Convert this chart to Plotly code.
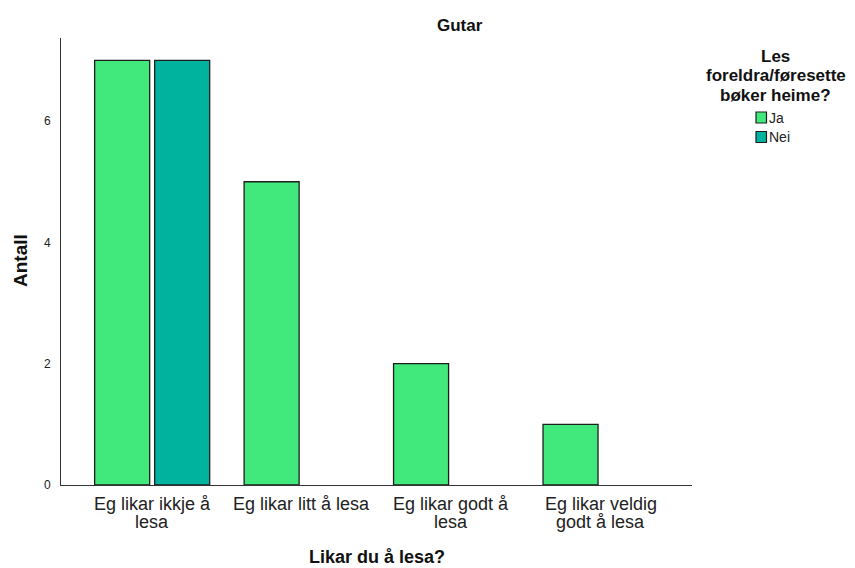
import plotly.graph_objects as go

categories = ["Eg likar ikkje å lesa", "Eg likar litt å lesa", "Eg likar godt å lesa", "Eg likar veldig godt å lesa"]
tick_labels = ["Eg likar ikkje å\nlesa", "Eg likar litt å lesa", "Eg likar godt å\nlesa", "Eg likar veldig\ngodt å lesa"]
series_names = ["Ja", "Nei"]
ja_values = [7, 5, 2, 1]
nei_values = [7, None, None, None]
y_ticks = [0, 2, 4, 6]
chart_title = "Gutar"
x_title = "Likar du å lesa?"
y_title = "Antall"
legend_title_lines = ["Les", "foreldra/føresette", "bøker heime?"]

FONT = "Arial, Liberation Sans, sans-serif"
COLORS = ["#41E87C", "#00B39E"]
OUTLINE = "#1e1e1e"

# page body has an 8px margin: figure is placed at (8, 8) in the window
OFF = 8
W, H = 855 - OFF, 568 - OFF
L, T = 61 - OFF, 38 - OFF
R = W - (692 - OFF)
B = H - (485 - OFF)
PW, PH = W - L - R, H - T - B


def px(x):
    return (x - OFF - L) / PW


def py(y):
    return (H - B - (y - OFF)) / PH


fig = go.Figure()
for name, vals, col in zip(series_names, [ja_values, nei_values], COLORS):
    fig.add_trace(go.Bar(name=name, x=categories, y=vals, showlegend=False,
                         marker=dict(color=col, line=dict(color=OUTLINE, width=1.3))))

annotations = []
annotations.append(dict(text=f"<b>{chart_title}</b>", x=px(459.5), y=py(25), xref="paper", yref="paper",
                        xanchor="center", yanchor="middle", showarrow=False,
                        font=dict(size=17, family=FONT, color="#111")))
for cat, lab in zip(categories, tick_labels):
    for i, line in enumerate(lab.split("\n")):
        annotations.append(dict(text=line, x=cat, y=0, xref="x", yref="paper",
                                xanchor="center", yanchor="middle", yshift=-19 - 17.5 * i,
                                showarrow=False, font=dict(size=18, family=FONT, color="#222")))
annotations.append(dict(text=f"<b>{x_title}</b>", x=px(377), y=py(557), xref="paper", yref="paper",
                        xanchor="center", yanchor="middle", showarrow=False,
                        font=dict(size=18, family=FONT, color="#111")))
annotations.append(dict(text=f"<b>{y_title}</b>", x=px(20), y=py(261), xref="paper", yref="paper",
                        xanchor="center", yanchor="middle", textangle=-90, showarrow=False,
                        font=dict(size=19, family=FONT, color="#111")))
for i, line in enumerate(legend_title_lines):
    annotations.append(dict(text=f"<b>{line}</b>", x=px(775.5), y=py(57 + 19 * i), xref="paper", yref="paper",
                            xanchor="center", yanchor="middle", showarrow=False,
                            font=dict(size=17, family=FONT, color="#111")))
shapes = []
for i, (name, col) in enumerate(zip(series_names, COLORS)):
    cy = 117.5 + 19.5 * i
    shapes.append(dict(type="rect", xref="paper", yref="paper",
                       x0=px(756), x1=px(766.5), y0=py(cy - 5.5), y1=py(cy + 5.5),
                       fillcolor=col, line=dict(color=OUTLINE, width=1.2)))
    annotations.append(dict(text=name, x=px(767), y=py(cy), xref="paper", yref="paper",
                            xanchor="left", yanchor="middle", showarrow=False,
                            font=dict(size=14, family=FONT, color="#222")))

fig.update_layout(
    width=W, height=H,
    margin=dict(l=L, r=R, t=T, b=B, autoexpand=False),
    paper_bgcolor="white", plot_bgcolor="white",
    font=dict(family=FONT, color="#222"),
    barmode="group", bargap=0.197, bargroupgap=0.083,
    showlegend=False,
    annotations=annotations,
    shapes=shapes,
)

fig.update_xaxes(
    range=[-0.61, 3.612], showticklabels=False,
    showline=True, linecolor="#333", linewidth=1, ticks="", showgrid=False,
)
fig.update_yaxes(
    range=[0, 7.37], tickmode="array", tickvals=y_ticks,
    showline=True, linecolor="#333", linewidth=1, ticks="", showgrid=False, zeroline=False,
    tickfont=dict(size=12, family=FONT, color="#222"), ticklabelstandoff=7,
)

fig.write_html("out.html")
